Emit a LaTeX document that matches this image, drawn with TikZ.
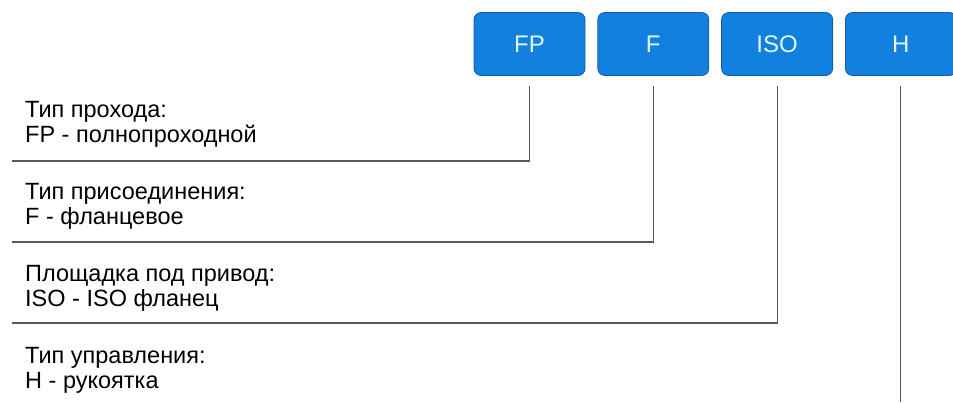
\documentclass[tikz,border=0pt]{standalone}
\usepackage{fontspec}
\setmainfont{Liberation Sans}
\definecolor{codeblue}{RGB}{18, 128, 222}
\definecolor{codeedge}{RGB}{28, 92, 160}
\definecolor{codetext}{RGB}{226, 246, 255}
\definecolor{linegray}{RGB}{90, 90, 90}
\usetikzlibrary{positioning}

\begin{document}
\begin{tikzpicture}[x=1pt, y=-1pt,
  codebox/.style={draw=codeedge, fill=codeblue, rounded corners=7pt, line width=0.8pt,
    minimum width=111pt, minimum height=63pt, text=codetext, font=\fontsize{24}{28}\selectfont},
  desc/.style={anchor=base west, align=left, inner sep=0pt, font=\fontsize{23.5}{24.5}\selectfont},
  link/.style={draw=linegray, line width=1.1pt, shorten <=10pt}]
  \useasboundingbox (0,0) rectangle (953,402);

  % code boxes
  \node[codebox] (fp) at (529.5,44) {FP};
  \node[codebox, right=12pt of fp] (f) {F};
  \node[codebox, right=12pt of f] (iso) {ISO};
  \node[codebox, right=12pt of iso] (h) {H};

  % descriptions (anchored on the baseline of the second line)
  \node[desc] (fptxt) at (25,142) {Тип прохода:\\FP - полнопроходной};
  \node[desc] (ftxt) at (25,224) {Тип присоединения:\\F - фланцевое};
  \node[desc] (isotxt) at (25,306) {Площадка под привод:\\ISO - ISO фланец};
  \node[desc] (htxt) at (25,388) {Тип управления:\\H - рукоятка};

  % leader lines
  \coordinate (fpend) at (12,161);
  \coordinate (fend) at (12,242);
  \coordinate (isoend) at (12,323);
  \coordinate (hend) at (h.south |- 0,402);
  \draw[link] (fp.south) |- (fpend);
  \draw[link] (f.south) |- (fend);
  \draw[link] (iso.south) |- (isoend);
  \draw[link] (h.south) -- (hend);
\end{tikzpicture}
\end{document}
